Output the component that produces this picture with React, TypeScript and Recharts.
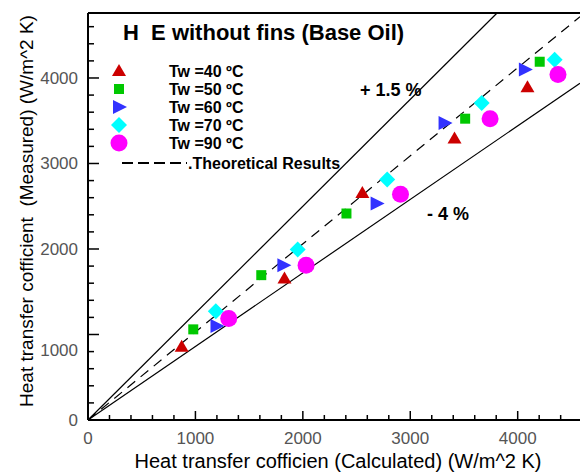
import React from 'react';
import { ScatterChart, Scatter, XAxis, YAxis, ReferenceLine } from 'recharts';

// measured vs calculated heat transfer coefficient, one array per water temperature
const tw40 = [
  { x: 872, y: 857 },
  { x: 1829, y: 1655 },
  { x: 2554, y: 2656 },
  { x: 3412, y: 3292 },
  { x: 4091, y: 3893 },
];
const tw50 = [
  { x: 980, y: 1060 },
  { x: 1613, y: 1694 },
  { x: 2406, y: 2415 },
  { x: 3511, y: 3524 },
  { x: 4205, y: 4190 },
];
const tw60 = [
  { x: 1196, y: 1098 },
  { x: 1819, y: 1811 },
  { x: 2687, y: 2532 },
  { x: 3319, y: 3474 },
  { x: 4067, y: 4098 },
];
const tw70 = [
  { x: 1190, y: 1273 },
  { x: 1952, y: 1994 },
  { x: 2785, y: 2813 },
  { x: 3665, y: 3708 },
  { x: 4344, y: 4213 },
];
const tw90 = [
  { x: 1310, y: 1188 },
  { x: 2030, y: 1811 },
  { x: 2909, y: 2641 },
  { x: 3743, y: 3524 },
  { x: 4375, y: 4042 },
];

// error band (+1.5 % / -4 %) and theoretical line, as end points
const upperBand = [{ x: 0, y: 0 }, { x: 3808, y: 4760 }];
const theoryLine = [{ x: 0, y: 0 }, { x: 4580, y: 4717 }];
const lowerBand = [{ x: 0, y: 0 }, { x: 4580, y: 3939 }];

const xTicks = [0, 200, 400, 600, 800, 1000, 1200, 1400, 1600, 1800, 2000, 2200, 2400, 2600, 2800, 3000, 3200, 3400, 3600, 3800, 4000, 4200, 4400];
const yTicks = [0, 200, 400, 600, 800, 1000, 1200, 1400, 1600, 1800, 2000, 2200, 2400, 2600, 2800, 3000, 3200, 3400, 3600, 3800, 4000, 4200, 4400, 4600];
const X_MAX = 4580;
const Y_MAX = 4760;

const FONT = 'Liberation Sans, Arial, sans-serif';
const RED = '#cc0000';
const GREEN = '#00c800';
const BLUE = '#3232ff';
const CYAN = '#00ffff';
const MAGENTA = '#ff00ff';

const legendItems = [
  { label: 'Tw =40 ºC', kind: 'up', color: RED },
  { label: 'Tw =50 ºC', kind: 'square', color: GREEN },
  { label: 'Tw =60 ºC', kind: 'right', color: BLUE },
  { label: 'Tw =70 ºC', kind: 'diamond', color: CYAN },
  { label: 'Tw =90 ºC', kind: 'circle', color: MAGENTA },
];

function Marker({ kind, cx, cy, color }: { kind: string; cx: number; cy: number; color: string }) {
  if (kind === 'up') {
    return <polygon points={`${cx},${cy - 7} ${cx + 7},${cy + 5} ${cx - 7},${cy + 5}`} fill={color} />;
  }
  if (kind === 'square') {
    return <rect x={cx - 5} y={cy - 5} width={10} height={10} fill={color} />;
  }
  if (kind === 'right') {
    return <polygon points={`${cx - 6},${cy - 7} ${cx + 8},${cy} ${cx - 6},${cy + 7}`} fill={color} />;
  }
  if (kind === 'diamond') {
    return <polygon points={`${cx},${cy - 8} ${cx + 8},${cy} ${cx},${cy + 8} ${cx - 8},${cy}`} fill={color} />;
  }
  return <circle cx={cx} cy={cy} r={8.5} fill={color} />;
}

const shapeOf = (kind: string, color: string) => (props: any) =>
  <Marker kind={kind} cx={props.cx} cy={props.cy} color={color} />;

// ticks point into the plot; labels only on the thousands
const XTick = (props: any) => {
  const { x, y, payload } = props;
  const major = payload.value % 1000 === 0;
  return (
    <g>
      <line x1={x} x2={x} y1={y} y2={y - (major ? 9 : 5)} stroke="#000" strokeWidth={1.5} />
      {major && (
        <text x={x} y={y + 24} textAnchor="middle" fill="#555" fontSize={17} fontFamily={FONT}>
          {payload.value}
        </text>
      )}
    </g>
  );
};

// the 1000 label sits a little below its tick
const yLabelShift: Record<number, number> = { 1000: 16 };

const YTick = (props: any) => {
  const { x, y, payload } = props;
  const major = payload.value % 1000 === 0;
  const shift = yLabelShift[payload.value] ?? 0;
  return (
    <g>
      <line x1={x} x2={x + (major ? 11 : 6)} y1={y} y2={y} stroke="#000" strokeWidth={1.5} />
      {major && (
        <text x={x - 10} y={y + 6 + shift} textAnchor="end" fill="#555" fontSize={17} fontFamily={FONT}>
          {payload.value}
        </text>
      )}
    </g>
  );
};

export default function App() {
  return (
    <div style={{ position: 'absolute', left: 0, top: 0, width: 580, height: 473, background: '#fff' }}>
      <ScatterChart width={580} height={473} margin={{ top: 13, right: 0, bottom: 52, left: 87 }}>
        <XAxis
          type="number"
          dataKey="x"
          domain={[0, X_MAX]}
          ticks={xTicks}
          interval={0}
          tickSize={0}
          tickMargin={0}
          height={1}
          allowDataOverflow
          tick={XTick}
          axisLine={{ stroke: '#000', strokeWidth: 2 }}
        />
        <YAxis
          type="number"
          dataKey="y"
          domain={[0, Y_MAX]}
          ticks={yTicks}
          interval={0}
          tickSize={0}
          tickMargin={0}
          width={1}
          allowDataOverflow
          tick={YTick}
          axisLine={{ stroke: '#000', strokeWidth: 2 }}
        />
        <ReferenceLine y={Y_MAX} stroke="#000" strokeWidth={2} />
        <ReferenceLine segment={upperBand} stroke="#000" strokeWidth={1.2} />
        <ReferenceLine segment={lowerBand} stroke="#000" strokeWidth={1.2} />
        <ReferenceLine segment={theoryLine} stroke="#000" strokeWidth={1.2} strokeDasharray="10 7" />
        <Scatter data={tw40} shape={shapeOf('up', RED)} isAnimationActive={false} />
        <Scatter data={tw50} shape={shapeOf('square', GREEN)} isAnimationActive={false} />
        <Scatter data={tw60} shape={shapeOf('right', BLUE)} isAnimationActive={false} />
        <Scatter data={tw70} shape={shapeOf('diamond', CYAN)} isAnimationActive={false} />
        <Scatter data={tw90} shape={shapeOf('circle', MAGENTA)} isAnimationActive={false} />
      </ScatterChart>
      <svg width={580} height={473} style={{ position: 'absolute', left: 0, top: 0, pointerEvents: 'none' }}>
        <g fontFamily={FONT}>
          <text x={123} y={40} fontSize={22} fontWeight="bold" fill="#000">
            {'H\u00a0\u00a0E without fins (Base Oil)'}
          </text>
          {legendItems.map((item, i) => (
            <g key={item.label}>
              <Marker kind={item.kind} cx={119} cy={71 + i * 18} color={item.color} />
              <text x={169} y={71 + i * 18 + 6} fontSize={16} fontWeight="bold" fill="#000">
                {item.label}
              </text>
            </g>
          ))}
          <line x1={122} x2={187} y1={163} y2={163} stroke="#000" strokeWidth={2} strokeDasharray="11 5" />
          <text x={188} y={169} fontSize={16} fontWeight="bold" fill="#000">
            .Theoretical Results
          </text>
          <text x={360} y={96} fontSize={18} fontWeight="bold" fill="#000">+ 1.5 %</text>
          <text x={427} y={220} fontSize={18} fontWeight="bold" fill="#000">- 4 %</text>
          <text x={338} y={468} fontSize={20} textAnchor="middle" fill="#000">
            Heat transfer cofficien (Calculated) (W/m^2 K)
          </text>
          <text
            x={0}
            y={0}
            fontSize={19}
            textAnchor="middle"
            fill="#000"
            transform="translate(33 211) rotate(-90)"
          >
            {'Heat transfer cofficient\u00a0\u00a0(Measured) (W/m^2 K)'}
          </text>
        </g>
      </svg>
    </div>
  );
}
